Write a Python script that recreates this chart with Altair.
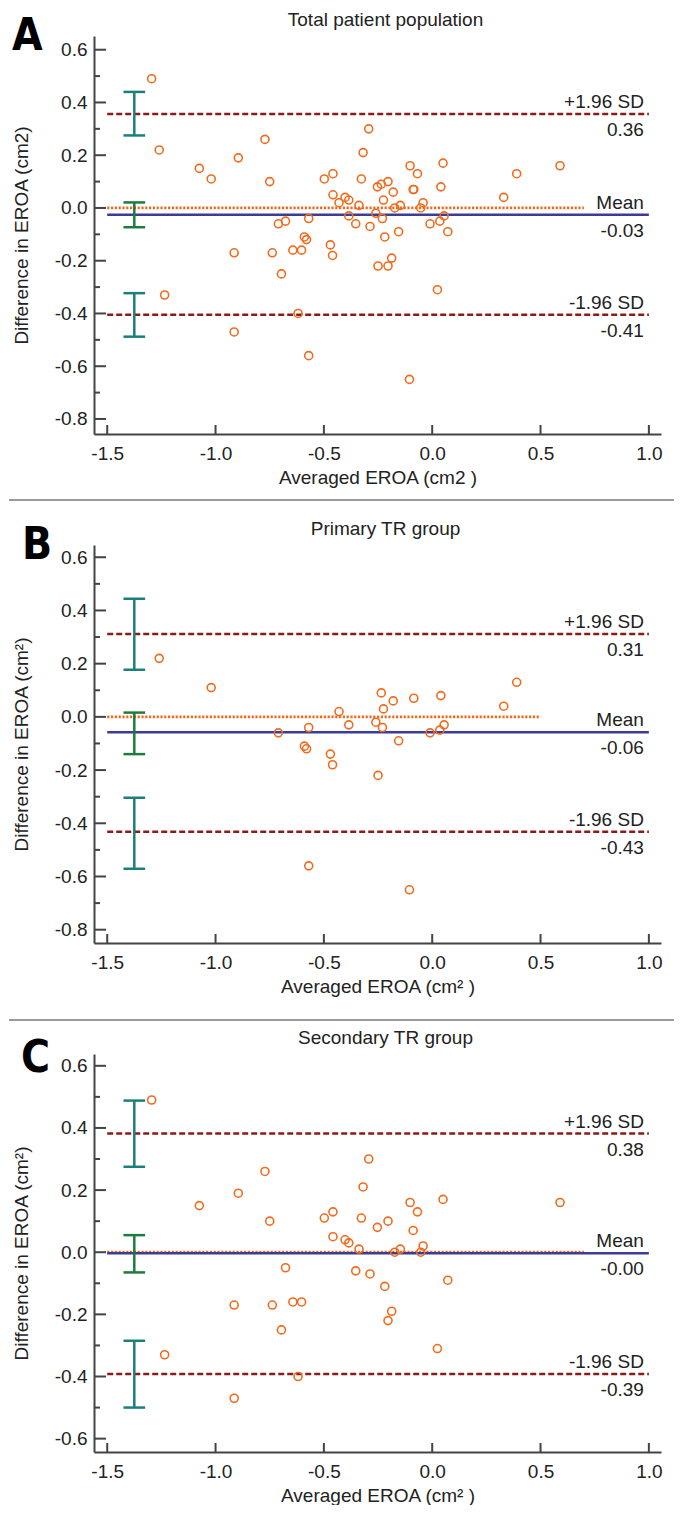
import altair as alt
import pandas as pd

# ---------------- data ----------------
panel_titles = ["Total patient population", "Primary TR group", "Secondary TR group"]
panel_letters = ["A", "B", "C"]
y_titles = ["Difference in EROA (cm2)", "Difference in EROA (cm\u00b2)", "Difference in EROA (cm\u00b2)"]
x_titles = ["Averaged EROA (cm2 )", "Averaged EROA (cm\u00b2 )", "Averaged EROA (cm\u00b2 )"]

primary_avg = [-1.26, -1.02, -0.71, -0.57, -0.59, -0.58, -0.47, -0.46, -0.43, -0.385,
               -0.26, -0.23, -0.25, -0.235, -0.225, -0.18, -0.155, -0.085, -0.01, 0.035,
               0.055, 0.04, 0.33, 0.39, -0.57, -0.105]
primary_diff = [0.22, 0.11, -0.06, -0.04, -0.11, -0.12, -0.14, -0.18, 0.02, -0.03,
                -0.02, -0.04, -0.22, 0.09, 0.03, 0.06, -0.09, 0.07, -0.06, -0.05,
                -0.03, 0.08, 0.04, 0.13, -0.56, -0.65]

secondary_avg = [-1.295, -1.075, -0.895, -0.772, -0.750, -0.498, -0.458, -0.319, -0.293, -0.327,
                 -0.253, -0.204, -0.102, -0.068, -0.088, 0.050, 0.590, -0.458, -0.402, -0.385,
                 -0.338, -0.173, -0.147, -0.053, -0.042, -0.677, -0.353, -0.287, 0.072, -0.219,
                 -0.914, -0.738, -0.643, -0.603, -0.187, -0.204, -0.696, 0.024, -1.235, -0.619,
                 -0.914]
secondary_diff = [0.49, 0.15, 0.19, 0.26, 0.10, 0.11, 0.13, 0.21, 0.30, 0.11,
                  0.08, 0.10, 0.16, 0.13, 0.07, 0.17, 0.16, 0.05, 0.04, 0.03,
                  0.01, 0.00, 0.01, 0.00, 0.02, -0.05, -0.06, -0.07, -0.09, -0.11,
                  -0.17, -0.17, -0.16, -0.16, -0.19, -0.22, -0.25, -0.31, -0.33, -0.40,
                  -0.47]

# total population = primary + secondary
total_avg = primary_avg + secondary_avg
total_diff = primary_diff + secondary_diff

mean_diff = [-0.026, -0.058, -0.003]
upper_loa = [0.356, 0.311, 0.382]
lower_loa = [-0.405, -0.432, -0.392]
mean_text = ["-0.03", "-0.06", "-0.00"]
upper_text = ["0.36", "0.31", "0.38"]
lower_text = ["-0.41", "-0.43", "-0.39"]
upper_ci_lo = [0.275, 0.177, 0.275]
upper_ci_hi = [0.440, 0.444, 0.488]
mean_ci_lo = [-0.073, -0.140, -0.065]
mean_ci_hi = [0.021, 0.016, 0.055]
lower_ci_lo = [-0.488, -0.571, -0.500]
lower_ci_hi = [-0.323, -0.304, -0.285]
zero_line_end = [0.70, 0.50, 0.70]

y_domain_lo = [-0.857, -0.850, -0.643]
y_domain_hi = [0.652, 0.646, 0.638]
y_tick_values = [
    [-0.8, -0.6, -0.4, -0.2, 0.0, 0.2, 0.4, 0.6],
    [-0.8, -0.6, -0.4, -0.2, 0.0, 0.2, 0.4, 0.6],
    [-0.6, -0.4, -0.2, 0.0, 0.2, 0.4, 0.6],
]
y_minor_values = [
    [-0.7, -0.5, -0.3, -0.1, 0.1, 0.3, 0.5],
    [-0.7, -0.5, -0.3, -0.1, 0.1, 0.3, 0.5],
    [-0.5, -0.3, -0.1, 0.1, 0.3, 0.5],
]
x_tick_values = [-1.5, -1.0, -0.5, 0.0, 0.5, 1.0]
x_domain = [-1.561, 1.056]
line_start = -1.5
line_end = 1.0
ci_x = -1.375
cap_half = 0.05

# ---------------- styling ----------------
W, H = 567, 398
FS = 19
FONT = "Liberation Sans, Arial, Helvetica, sans-serif"
LETTER_FONT = "Liberation Sans Narrow, DejaVu Sans Condensed, Liberation Sans, sans-serif"
ORANGE = "#F26B1D"
BLUE = "#3C3C96"
DARKRED = "#8B1A1A"
TEAL = "#1B7F7B"
GREEN = "#1E7B3C"
AXIS = "#444444"
TEXT = "#222222"
SEP = "#9a9a9a"
LABEL_EXPR = "replace(format(datum.value, '.1f'), '\u2212', '-')"

letter_x = [-82, -72, -73]
letter_y = [14, 14, 18]
sep_y = [464, 475, None]


def make_panel(i, avg, diff):
    xs = alt.Scale(domain=x_domain, nice=False, zero=False)
    ys = alt.Scale(domain=[y_domain_lo[i], y_domain_hi[i]], nice=False, zero=False)
    xaxis = alt.Axis(
        values=x_tick_values, labelExpr=LABEL_EXPR, title=x_titles[i],
        ticks=False, tickSize=0, grid=False, domainColor=AXIS, domainWidth=2,
        labelFont=FONT, labelFontSize=FS, labelColor=TEXT, labelPadding=10,
        labelFlush=False, labelOverlap=False,
        titleFont=FONT, titleFontSize=FS, titleFontWeight="normal", titleColor=TEXT,
        titlePadding=5)
    yaxis = alt.Axis(
        values=y_tick_values[i], labelExpr=LABEL_EXPR, title=y_titles[i],
        ticks=False, tickSize=0, grid=False, domainColor=AXIS, domainWidth=2,
        labelFont=FONT, labelFontSize=FS, labelColor=TEXT, labelPadding=7,
        labelFlush=False, labelOverlap=False,
        titleFont=FONT, titleFontSize=FS, titleFontWeight="normal", titleColor=TEXT,
        titlePadding=23)

    def X(f):
        return alt.X(f, scale=xs, axis=xaxis)

    def Y(f):
        return alt.Y(f, scale=ys, axis=yaxis)

    pts = alt.Chart(pd.DataFrame({"avg": avg, "diff": diff})).mark_point(
        shape="circle", filled=False, color=ORANGE, size=64, strokeWidth=1.6, opacity=1
    ).encode(x=X("avg:Q"), y=Y("diff:Q"))

    zero = alt.Chart(pd.DataFrame({"y": [0.0], "x1": [line_start], "x2": [zero_line_end[i]]})).mark_rule(
        color=ORANGE, strokeDash=[2.2, 1.6], strokeWidth=2.8
    ).encode(x=X("x1:Q"), x2="x2:Q", y=Y("y:Q"))

    mean = alt.Chart(pd.DataFrame({"y": [mean_diff[i]], "x1": [line_start], "x2": [line_end]})).mark_rule(
        color=BLUE, strokeWidth=2.5
    ).encode(x=X("x1:Q"), x2="x2:Q", y=Y("y:Q"))

    loa = alt.Chart(pd.DataFrame({"y": [upper_loa[i], lower_loa[i]],
                                  "x1": [line_start, line_start], "x2": [line_end, line_end]})).mark_rule(
        color=DARKRED, strokeDash=[6, 3], strokeWidth=2.5
    ).encode(x=X("x1:Q"), x2="x2:Q", y=Y("y:Q"))

    color_enc = alt.Color("kind:N", scale=alt.Scale(domain=["loa", "mean"], range=[TEAL, GREEN]), legend=None)
    ci = pd.DataFrame({
        "x": [ci_x] * 3,
        "lo": [upper_ci_lo[i], mean_ci_lo[i], lower_ci_lo[i]],
        "hi": [upper_ci_hi[i], mean_ci_hi[i], lower_ci_hi[i]],
        "kind": ["loa", "mean", "loa"],
    })
    bars = alt.Chart(ci).mark_rule(strokeWidth=2.5).encode(
        x=X("x:Q"), y=Y("lo:Q"), y2="hi:Q", color=color_enc)
    caps_df = pd.DataFrame({
        "x1": [ci_x - cap_half] * 6,
        "x2": [ci_x + cap_half] * 6,
        "y": [upper_ci_lo[i], upper_ci_hi[i], mean_ci_lo[i], mean_ci_hi[i], lower_ci_lo[i], lower_ci_hi[i]],
        "kind": ["loa", "loa", "mean", "mean", "loa", "loa"],
    })
    caps = alt.Chart(caps_df).mark_rule(strokeWidth=2.5).encode(
        x=X("x1:Q"), x2="x2:Q", y=Y("y:Q"), color=color_enc)

    ymaj = alt.Chart(pd.DataFrame({"v": y_tick_values[i]})).mark_rule(color=AXIS, strokeWidth=2).encode(
        y=Y("v:Q"), x=alt.value(0), x2=alt.value(12))
    ymin = alt.Chart(pd.DataFrame({"v": y_minor_values[i]})).mark_rule(color=AXIS, strokeWidth=2).encode(
        y=Y("v:Q"), x=alt.value(0), x2=alt.value(6))
    xmaj = alt.Chart(pd.DataFrame({"v": x_tick_values})).mark_rule(color=AXIS, strokeWidth=2).encode(
        x=X("v:Q"), y=alt.value(H), y2=alt.value(H - 9))

    above = alt.Chart(pd.DataFrame({
        "x": [line_end] * 3,
        "y": [upper_loa[i], mean_diff[i], lower_loa[i]],
        "t": ["+1.96 SD", "Mean", "-1.96 SD"],
    })).mark_text(align="right", baseline="alphabetic", dx=-5, dy=-6, font=FONT, fontSize=FS, color=TEXT).encode(
        x=X("x:Q"), y=Y("y:Q"), text="t:N")
    below = alt.Chart(pd.DataFrame({
        "x": [line_end] * 3,
        "y": [upper_loa[i], mean_diff[i], lower_loa[i]],
        "t": [upper_text[i], mean_text[i], lower_text[i]],
    })).mark_text(align="right", baseline="top", dx=-5, dy=7, font=FONT, fontSize=FS, color=TEXT).encode(
        x=X("x:Q"), y=Y("y:Q"), text="t:N")

    letter = alt.Chart(pd.DataFrame({"t": [panel_letters[i]]})).mark_text(
        align="left", baseline="alphabetic", font=LETTER_FONT, fontSize=44, fontWeight="bold", color="#000000"
    ).encode(x=alt.value(letter_x[i]), y=alt.value(letter_y[i]), text="t:N")

    title = alt.Chart(pd.DataFrame({"t": [panel_titles[i]]})).mark_text(
        align="center", baseline="alphabetic", font=FONT, fontSize=FS, color=TEXT
    ).encode(x=alt.value(W / 2 + 8), y=alt.value(-10), text="t:N")

    layers = [zero, mean, loa, bars, caps, ymaj, ymin, xmaj, pts, above, below, letter, title]
    if sep_y[i] is not None:
        sep = alt.Chart(pd.DataFrame({"k": [0]})).mark_rule(color=SEP, strokeWidth=2).encode(
            x=alt.value(-85), x2=alt.value(580), y=alt.value(sep_y[i]))
        layers.append(sep)

    return alt.layer(*layers).properties(width=W, height=H)


chart = alt.vconcat(
    make_panel(0, total_avg, total_diff),
    make_panel(1, primary_avg, primary_diff),
    make_panel(2, secondary_avg, secondary_diff),
    spacing=111,
    bounds="flush",
).configure_view(stroke=None).properties(
    padding={"left": 0, "top": 3, "right": 0, "bottom": 0},
    background="white",
)

chart.save("out.html", embed_options={"renderer": "svg", "actions": False})
